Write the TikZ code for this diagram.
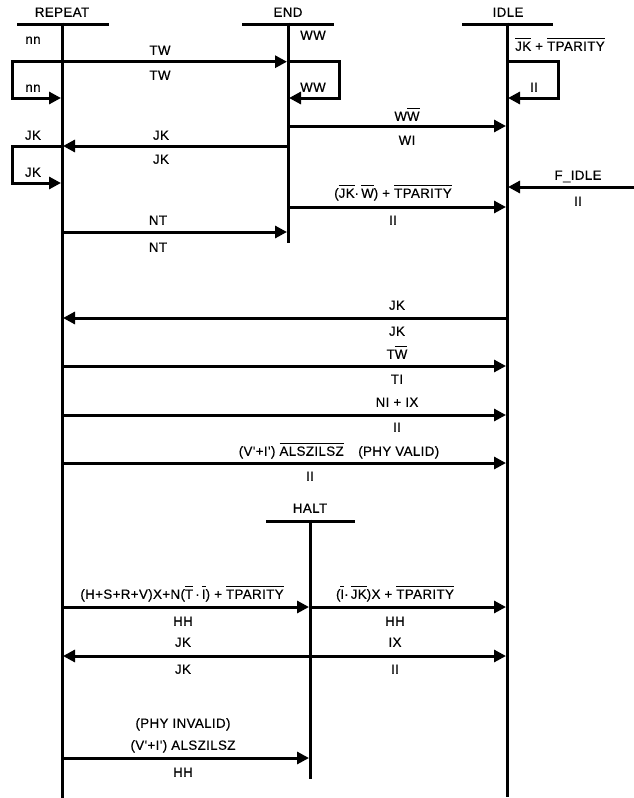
\documentclass[tikz,border=0pt]{standalone}
\usepackage{fontspec}
\setmainfont{Liberation Sans}[Ligatures=TeXOff,LetterSpace=3,FakeBold=0.4]
\usetikzlibrary{arrows.meta}
\newsavebox\olbox
\newcommand\ovl[1]{\sbox\olbox{#1}\rlap{\rule[11.4pt]{\wd\olbox}{1.1pt}}\usebox\olbox}
\tikzset{
  life/.style={line width=3pt},
  bar/.style={line width=3pt},
  msg/.style={line width=3pt,-{Triangle[length=12pt,width=12pt]},shorten >=1pt},
  lbl/.style={inner sep=0pt,text height=9.5pt,text depth=0pt,font=\fontsize{13.3}{16}\selectfont}
}
\begin{document}
\begin{tikzpicture}[x=1pt,y=-1pt]
\useasboundingbox (0,0) rectangle (634,798);
\fill[white] (0,0) rectangle (634,798);

% headers
\node[lbl] (repeat) at (62,12) {REPEAT};
\node[lbl] (end) at (288,12) {END};
\node[lbl] (idle) at (508,12) {IDLE};
\node[lbl] (halt) at (310,508) {HALT};
\draw[bar] (17,24) -- (109,24);
\draw[bar] (242,24) -- (334,24);
\draw[bar] (462,24) -- (553,24);
\draw[bar] (266,521) -- (355,521);

% lifelines
\coordinate (R0) at (62,22.5);  \coordinate (Rz) at (62,798);
\coordinate (E0) at (288,22.5); \coordinate (Ez) at (288,243);
\coordinate (I0) at (507,22.5); \coordinate (Iz) at (507,797);
\coordinate (H0) at (310,519.5); \coordinate (Hz) at (310,779);
\draw[life] (R0) -- (Rz);
\draw[life] (E0) -- (Ez);
\draw[life] (I0) -- (Iz);
\draw[life] (H0) -- (Hz);

% endpoints on lifelines
\coordinate (r1) at (62,61.7);  \coordinate (e1) at (288,61.7); \coordinate (i1) at (507,61.7);
\coordinate (r1b) at (62,98);   \coordinate (e1b) at (288,98);  \coordinate (i1b) at (507,98);
\coordinate (lr1) at (12,61.7); \coordinate (lr1b) at (12,98);
\coordinate (le1) at (339,61.7); \coordinate (le1b) at (339,98);
\coordinate (li1) at (558,61.7); \coordinate (li1b) at (558,98);
\coordinate (e2) at (288,126);  \coordinate (i2) at (507,126);
\coordinate (e3) at (288,146);  \coordinate (r3) at (62,146);
\coordinate (lr3) at (12,146);  \coordinate (lr3b) at (12,183); \coordinate (r3b) at (62,183);
\coordinate (fi) at (634,187);  \coordinate (i4) at (507,187);
\coordinate (e5) at (288,207);  \coordinate (i5) at (507,207);
\coordinate (r6) at (62,232);   \coordinate (e6) at (288,232);
\coordinate (i7) at (507,318);  \coordinate (r7) at (62,318);
\coordinate (r8) at (62,366);   \coordinate (i8) at (507,366);
\coordinate (r9) at (62,415);   \coordinate (i9) at (507,415);
\coordinate (r10) at (62,463);  \coordinate (i10) at (507,463);
\coordinate (r11) at (62,607);  \coordinate (h11) at (310,607); \coordinate (i11) at (507,607);
\coordinate (r12) at (62,656);  \coordinate (h12) at (310,656); \coordinate (i12) at (507,656);
\coordinate (r13) at (62,758);  \coordinate (h13) at (310,758);

% top section
\draw[msg] (r1) -- (e1);
\node[lbl] at (160,50) {TW};
\node[lbl] at (160,75) {TW};

\draw[msg] (r1) -- (lr1) -- (lr1b) -- (r1b);
\node[lbl] at (33,39) {nn};
\node[lbl] at (33,87) {nn};

\draw[msg] (e1) -- (le1) -- (le1b) -- (e1b);
\node[lbl] at (313,35) {WW};
\node[lbl] at (313,87) {WW};

\draw[msg] (i1) -- (li1) -- (li1b) -- (i1b);
\node[lbl] at (560,46) {\ovl{JK} + \ovl{TPARITY}};
\node[lbl] at (534,87) {II};

\draw[msg] (e2) -- (i2);
\node[lbl] at (407,116) {W\ovl{W}};
\node[lbl] at (407,140) {WI};

\draw[msg] (e3) -- (r3);
\node[lbl] at (161,135) {JK};
\node[lbl] at (161,159) {JK};

\draw[msg] (r3) -- (lr3) -- (lr3b) -- (r3b);
\node[lbl] at (33,135) {JK};
\node[lbl] at (33,172) {JK};

\draw[msg] (fi) -- (i4);
\node[lbl] at (578,175) {F\_IDLE};
\node[lbl] at (578,201) {II};

\draw[msg] (e5) -- (i5);
\node[lbl] at (393,193) {(\ovl{JK}·\,\ovl{W}) + \ovl{TPARITY}};
\node[lbl] at (393,220) {II};

\draw[msg] (r6) -- (e6);
\node[lbl] at (158,220) {NT};
\node[lbl] at (158,247) {NT};

% middle section
\draw[msg] (i7) -- (r7);
\node[lbl] at (397,305) {JK};
\node[lbl] at (397,331) {JK};

\draw[msg] (r8) -- (i8);
\node[lbl] at (397,354) {T\ovl{W}};
\node[lbl] at (397,379) {TI};

\draw[msg] (r9) -- (i9);
\node[lbl] at (397,402) {NI + IX};
\node[lbl] at (397,427) {II};

\draw[msg] (r10) -- (i10);
\node[lbl] at (339,451) {(V'+I') \ovl{ALSZILSZ}\hspace{1.1em}(PHY VALID)};
\node[lbl] at (310,476) {II};

% halt section
\draw[msg] (r11) -- (h11);
\node[lbl] at (182,594) {(H+S+R+V)X+N(\ovl{T}\,·\,\ovl{I}) + \ovl{TPARITY}};
\node[lbl] at (183,621) {HH};

\draw[msg] (h11) -- (i11);
\node[lbl] at (395,594) {(\ovl{I}·\,\ovl{JK})X + \ovl{TPARITY}};
\node[lbl] at (395,621) {HH};

\draw[msg] (h12) -- (r12);
\node[lbl] at (183,642) {JK};
\node[lbl] at (183,669) {JK};

\draw[msg] (h12) -- (i12);
\node[lbl] at (395,642) {IX};
\node[lbl] at (395,669) {II};

\draw[msg] (r13) -- (h13);
\node[lbl] at (183,723) {(PHY INVALID)};
\node[lbl] at (183,745) {(V'+I') ALSZILSZ};
\node[lbl] at (183,772) {HH};
\end{tikzpicture}
\end{document}
